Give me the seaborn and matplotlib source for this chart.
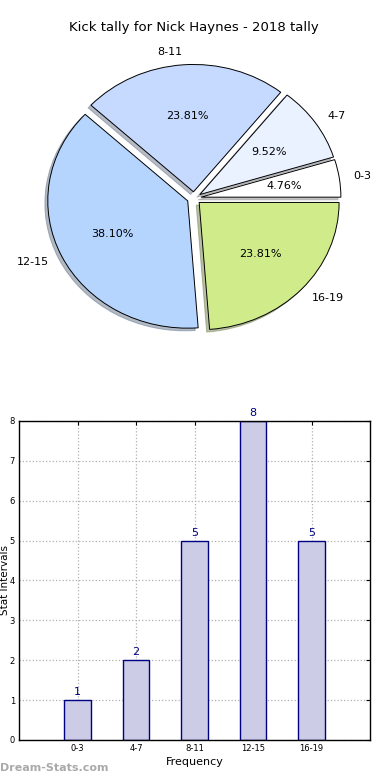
import seaborn as sns
import pandas as pd
import matplotlib.pyplot as plt

intervals = ["0-3", "4-7", "8-11", "12-15", "16-19"]
counts = [1, 2, 5, 8, 5]
slice_colors = ["#ffffff", "#eaf2ff", "#c6d9ff", "#b5d5ff", "#d0eb8a"]
title = "Kick tally for Nick Haynes - 2018 tally"

sns.set_style("white")
plt.rcParams["font.family"] = ["DejaVu Sans"]
plt.rcParams.update({"text.color": "black", "axes.labelcolor": "black",
                     "xtick.color": "black", "ytick.color": "black"})


def plot_pie(fig):
    ax = fig.add_axes([0.049, 0.542, 0.897, 0.408])
    ax.pie(counts, labels=intervals, colors=slice_colors, autopct="%.2f%%",
           explode=[0.05] * len(counts),
           shadow=dict(ox=-0.015, oy=-0.015, shade=0.45),
           startangle=0, labeldistance=1.1, pctdistance=0.6,
           wedgeprops=dict(edgecolor="black", linewidth=0.7),
           textprops=dict(fontsize=8))
    ax.set_aspect("auto")
    ax.set_xlim(-1.25, 1.25)
    ax.set_ylim(-1.25, 1.25)
    ax.set_title(title, fontsize=9.5, pad=6)


def plot_bars(fig):
    ax = fig.add_axes([0.049, 0.0513, 0.9, 0.409])
    data = pd.DataFrame({"interval": intervals, "count": counts})
    sns.barplot(data=data, x="interval", y="count", ax=ax, width=0.45,
                color="#ccccE6", edgecolor="navy", linewidth=1, saturation=1)
    ax.set_xlim(-1, 5)
    ax.set_ylim(0, 8)
    ax.set_yticks(range(0, 9))
    ax.grid(True, linestyle=":", color="#b0b0b0", linewidth=0.9)
    for p in ax.patches:
        p.set_zorder(1)
    for line in ax.get_xgridlines() + ax.get_ygridlines():
        line.set_zorder(2)
    for s in ax.spines.values():
        s.set_color("black")
        s.set_linewidth(1)
        s.set_zorder(3)
    ax.tick_params(axis="both", labelsize=6, direction="in", length=3,
                   top=True, right=True, pad=3)
    for c in ax.containers:
        ax.bar_label(c, padding=2, color="navy", fontsize=8)
    ax.set_xlabel("Frequency", fontsize=8, labelpad=3)
    ax.set_ylabel("Stat Intervals", fontsize=7.5, labelpad=0)
    fig.text(0.0, 0.012, "Dream-Stats.com", color="#aaaaaa", fontsize=8,
             fontweight="bold")


def main():
    fig = plt.figure(figsize=(3.9, 7.8), dpi=100)
    plot_pie(fig)
    plot_bars(fig)
    fig.savefig("out.png", dpi=100)


if __name__ == "__main__":
    main()
